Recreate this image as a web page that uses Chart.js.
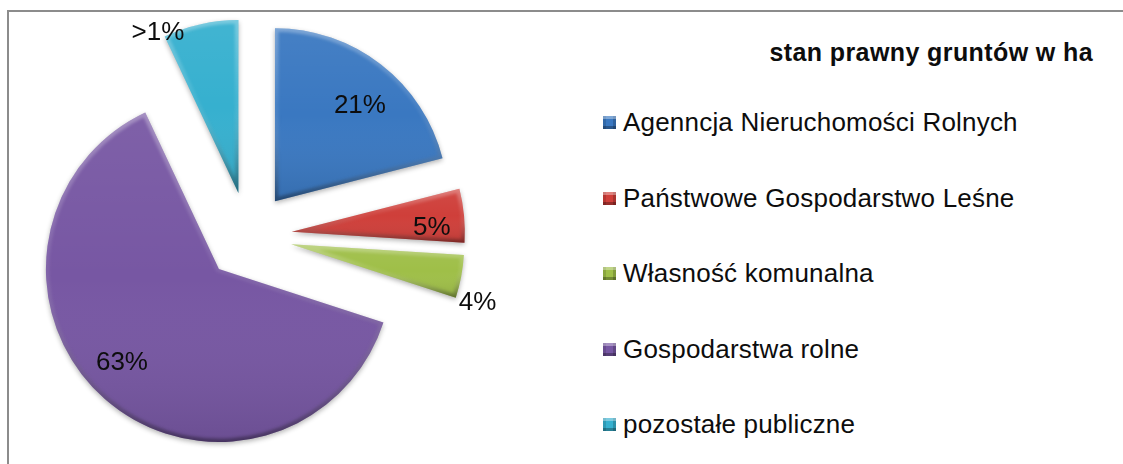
<!DOCTYPE html>
<html lang="pl">
<head>
<meta charset="utf-8">
<title>stan prawny gruntów w ha</title>
<script src="https://cdn.jsdelivr.net/npm/chart.js@4.4.1/dist/chart.umd.min.js"></script>
<style>
  html, body { margin: 0; padding: 0; background: #fff; }
  body { width: 1123px; height: 464px; position: relative; overflow: hidden;
         font-family: "Liberation Sans", Arial, sans-serif; color: #0d0d0d; }
  .frame { position: absolute; left: 7px; top: 10px; width: 1200px; height: 500px;
           border-left: 2px solid #8c8c8c; border-top: 2px solid #8c8c8c; }
  #pie { position: absolute; left: 0; top: 0; }
  .title { position: absolute; left: 640px; width: 453px; top: 37px; line-height: 30px;
           text-align: right; font-weight: bold; font-size: 25px; letter-spacing: 0.4px; }
  .legend { position: absolute; left: 603px; top: 0; margin: 0; padding: 0; list-style: none; }
  .legend li { position: absolute; left: 0; height: 30px; line-height: 30px; white-space: nowrap;
               font-size: 26px; letter-spacing: 0.2px; }
  .legend .box { position: absolute; left: 0; top: 9px; width: 13px; height: 13px; box-sizing: border-box;
                 box-shadow: inset 0 3px 0 rgba(255,255,255,.35), inset 0 -3px 0 rgba(0,0,0,.28),
                             inset 3px 0 0 rgba(0,0,0,.12), inset -3px 0 0 rgba(0,0,0,.18); }
  .legend .txt { position: absolute; left: 20px; top: 0; }
</style>
</head>
<body>
<div class="frame"></div>
<canvas id="pie" width="600" height="464"></canvas>
<div class="title">stan prawny gruntów w ha</div>
<ul class="legend" id="legend"></ul>

<script>
// --- data ---
const categories = [
  'Agenncja Nieruchomości Rolnych',
  'Państwowe Gospodarstwo Leśne',
  'Własność komunalna',
  'Gospodarstwa rolne',
  'pozostałe publiczne'
];
const shares = [21, 5, 4, 63, 7];          // % of land area
const sliceColors = ['#3a78c1', '#cf3f3a', '#9fbf48', '#7757a3', '#36b0cf'];

// the last slice was labelled this way in the source table
const labelOverrides = {4: '>1%'};
const total = shares.reduce((s, v) => s + v, 0);
const sliceLabels = shares.map((v, i) => labelOverrides[i] || Math.round(v / total * 100) + '%');

// --- legend (html) ---
const legendEl = document.getElementById('legend');
categories.forEach((name, i) => {
  const li = document.createElement('li');
  li.style.top = (107 + i * 75.5) + 'px';
  li.innerHTML = `<span class="box" style="background:${sliceColors[i]}"></span><span class="txt">${name}</span>`;
  legendEl.appendChild(li);
});

// --- exploded pie with bevel look ---
const EXPLODE = 44;
// where each value label sits: [fraction along the slice, radius factor]
const labelSpots = [[0.55, 0.74], [0.7, 0.81], [0.97, 1.13], [0.52, 0.78], [-0.06, 1.035]];

function tracePath(ctx, a) {
  ctx.beginPath();
  ctx.moveTo(a.x, a.y);
  ctx.arc(a.x, a.y, a.outerRadius, a.startAngle, a.endAngle);
  ctx.closePath();
}

function verticalExtent(a) {
  let top = a.y, bottom = a.y;
  const angles = [a.startAngle, a.endAngle];
  for (let k = -4; k <= 8; k++) {
    const t = k * Math.PI / 2;
    if (t > a.startAngle && t < a.endAngle) angles.push(t);
  }
  angles.forEach(t => {
    const y = a.y + a.outerRadius * Math.sin(t);
    top = Math.min(top, y); bottom = Math.max(bottom, y);
  });
  return [top, bottom];
}

const explodedPie = {
  id: 'explodedPie',
  beforeDatasetsDraw(chart) {
    const ctx = chart.ctx;
    chart.getDatasetMeta(0).data.forEach(a => {
      const mid = (a.startAngle + a.endAngle) / 2;
      a.$dx = Math.cos(mid) * EXPLODE;
      a.$dy = Math.sin(mid) * EXPLODE;
      a.x += a.$dx; a.y += a.$dy;
    });
    ctx.save();
    ctx.shadowColor = 'rgba(0,0,0,0.3)';
    ctx.shadowBlur = 5;
    ctx.shadowOffsetY = 2;
  },
  afterDatasetsDraw(chart) {
    const ctx = chart.ctx;
    ctx.restore();
    const arcs = chart.getDatasetMeta(0).data;

    arcs.forEach(a => {
      const [t, b] = verticalExtent(a);
      const R = a.outerRadius;
      ctx.save();
      tracePath(ctx, a);
      ctx.clip();
      const shade = ctx.createLinearGradient(0, t, 0, b);
      shade.addColorStop(0, 'rgba(255,255,255,0.06)');
      shade.addColorStop(0.5, 'rgba(255,255,255,0)');
      shade.addColorStop(1, 'rgba(0,0,0,0.1)');
      ctx.fillStyle = shade;
      ctx.fillRect(a.x - R - 2, t - 2, 2 * R + 4, b - t + 4);

      const rim = ctx.createLinearGradient(0, t, 0, b);
      rim.addColorStop(0, 'rgba(255,255,255,0.3)');
      rim.addColorStop(0.45, 'rgba(255,255,255,0.08)');
      rim.addColorStop(1, 'rgba(0,0,0,0.35)');
      ctx.filter = 'blur(1.5px)';
      ctx.lineWidth = 7;
      ctx.lineJoin = 'round';
      ctx.strokeStyle = rim;
      tracePath(ctx, a);
      ctx.stroke();
      ctx.restore();
    });

    // value labels
    ctx.save();
    ctx.font = '26px "Liberation Sans", Arial, sans-serif';
    ctx.fillStyle = '#0d0d0d';
    ctx.textAlign = 'center';
    ctx.textBaseline = 'middle';
    arcs.forEach((a, i) => {
      const [f, rf] = labelSpots[i];
      const ang = a.startAngle + (a.endAngle - a.startAngle) * f;
      const r = a.outerRadius * rf;
      ctx.fillText(sliceLabels[i], a.x + Math.cos(ang) * r, a.y + Math.sin(ang) * r);
    });
    ctx.restore();
  },
  afterDraw(chart) {
    chart.getDatasetMeta(0).data.forEach(a => {
      a.x -= a.$dx || 0; a.y -= a.$dy || 0;
      a.$dx = a.$dy = 0;
    });
  }
};

new Chart(document.getElementById('pie'), {
  type: 'pie',
  data: {
    labels: categories,
    datasets: [{
      data: shares,
      backgroundColor: sliceColors,
      borderWidth: 0,
      radius: 173,
      clip: false
    }]
  },
  options: {
    responsive: false,
    animation: false,
    devicePixelRatio: 1,
    events: [],
    layout: {padding: {left: 0, right: 104, top: 8, bottom: 0}},
    plugins: {legend: {display: false}, tooltip: {enabled: false}}
  },
  plugins: [explodedPie]
});
</script>
</body>
</html>
